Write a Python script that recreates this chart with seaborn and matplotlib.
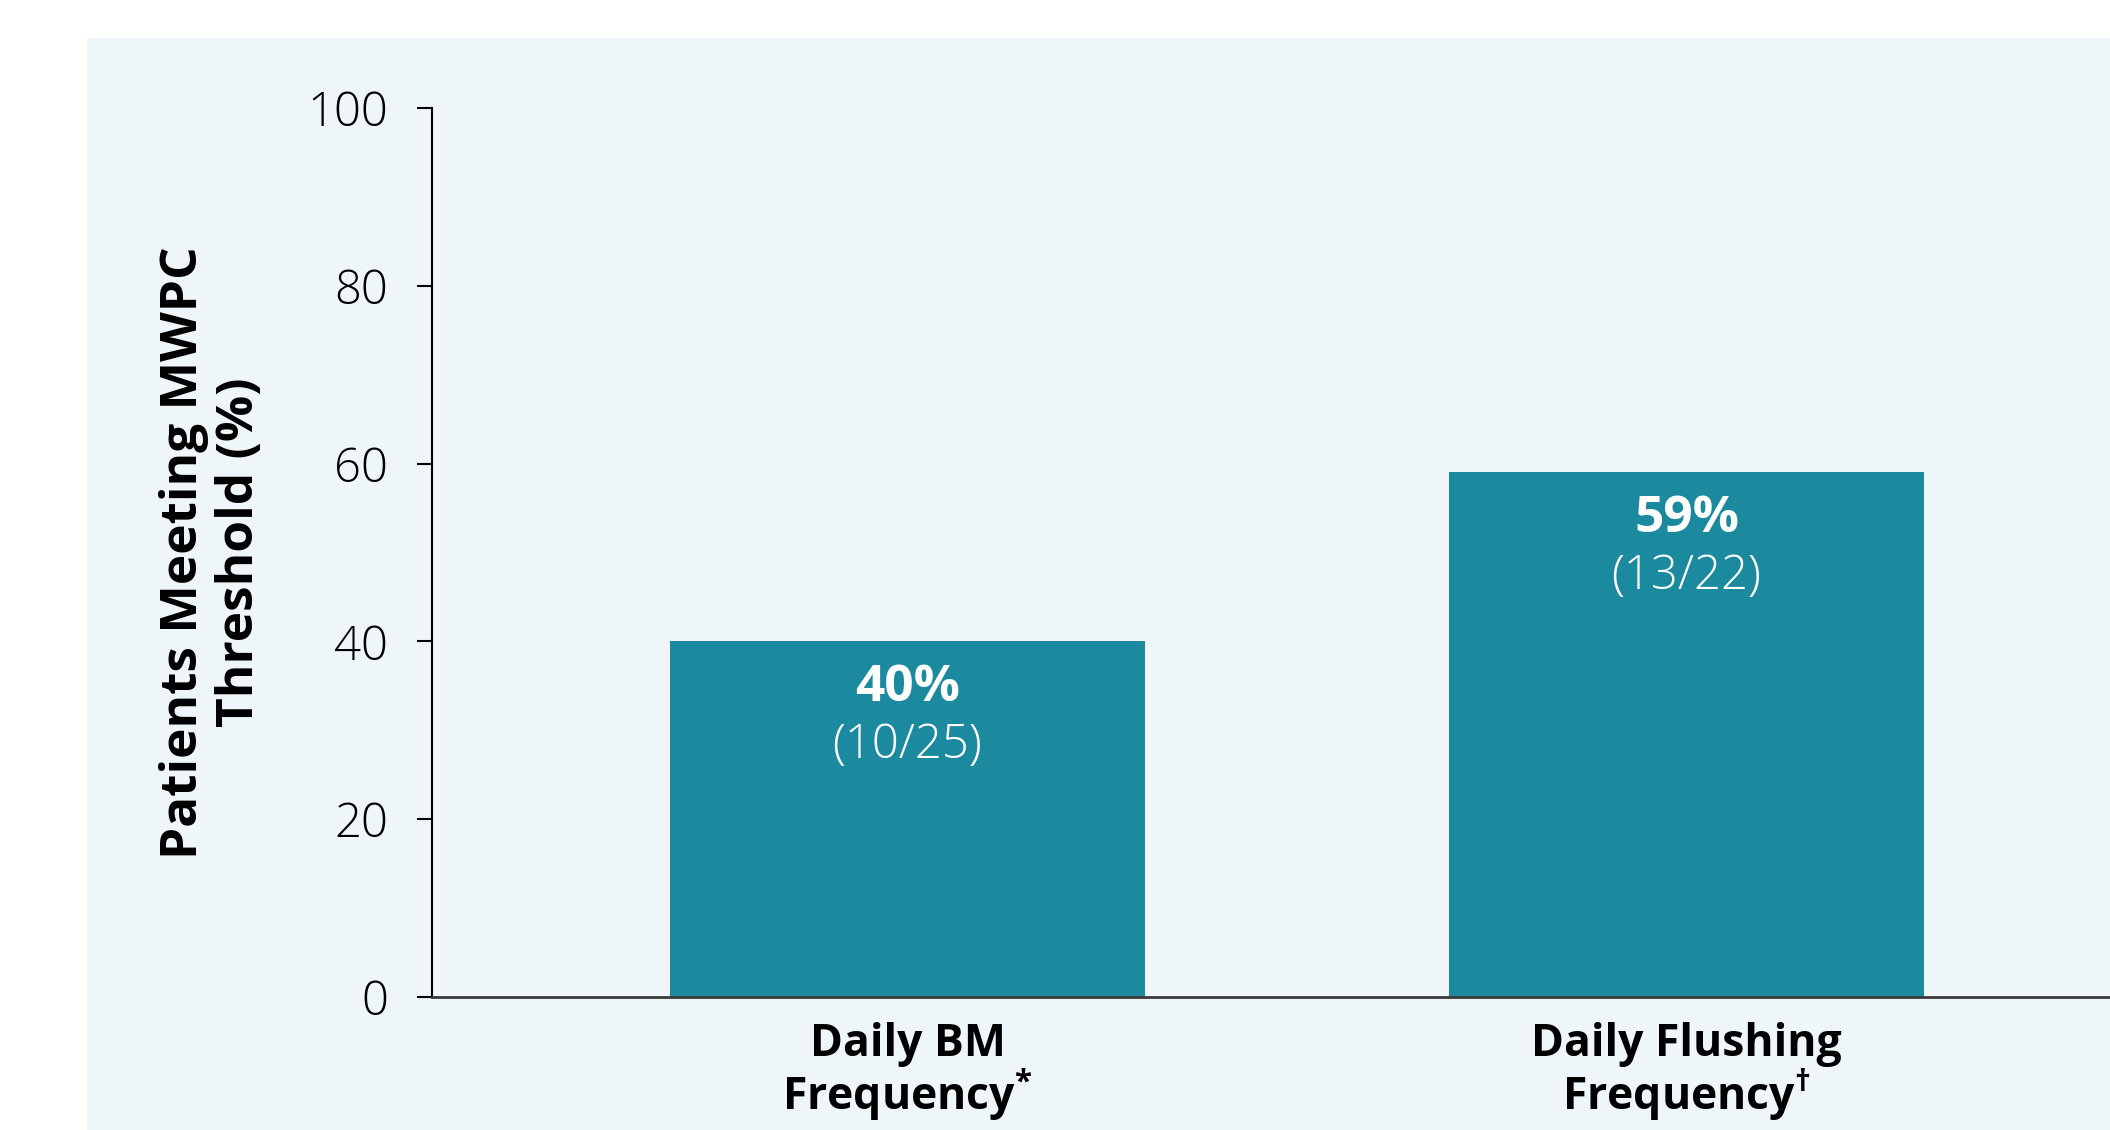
import matplotlib
matplotlib.use("Agg")
import matplotlib.pyplot as plt
import pandas as pd
import seaborn as sns
from matplotlib.patches import Rectangle

# Data
categories = ["Daily BM\nFrequency$^{*}$", "Daily Flushing\nFrequency$^{\\dagger}$"]
percent_meeting = [40, 59]
n_meeting = [10, 13]
n_total = [25, 22]
y_ticks = [0, 20, 40, 60, 80, 100]

BAR_COLOR = "#1C8A9E"
PANEL_COLOR = "#EEF6F9"
FONT = "Open Sans"

sns.set_theme(style="white")
plt.rcParams["font.family"] = [FONT, "DejaVu Sans"]
plt.rcParams["mathtext.fontset"] = "custom"
plt.rcParams["mathtext.rm"] = f"{FONT}:bold"
plt.rcParams["mathtext.bf"] = f"{FONT}:bold"
plt.rcParams["mathtext.it"] = f"{FONT}:bold"

W, H = 2110, 1130
fig = plt.figure(figsize=(W / 100, H / 100), dpi=100, facecolor="white")

# light background panel, drawn beneath the axes
fig.patches.append(Rectangle((87 / W, 0), 1 - 87 / W, 1 - 38 / H,
                             transform=fig.transFigure, facecolor=PANEL_COLOR,
                             edgecolor="none", zorder=-10))

ax = fig.add_axes([432 / W, 1 - 997 / H, 1 - 432 / W, (997 - 108) / H])
ax.set_facecolor("none")

df = pd.DataFrame({"measure": categories, "percent": percent_meeting})
sns.barplot(data=df, x="measure", y="percent", color=BAR_COLOR, saturation=1,
            width=0.61, edgecolor="none", linewidth=0, ax=ax)

# value labels inside the bars
for i, (pct, k, n) in enumerate(zip(percent_meeting, n_meeting, n_total)):
    ax.annotate(f"{pct}%", xy=(i, pct), xytext=(0, -47 * 0.72),
                textcoords="offset points", ha="center", va="center",
                color="white", fontsize=37, fontweight="bold")
    ax.annotate(f"({k}/{n})", xy=(i, pct), xytext=(0, -104 * 0.72),
                textcoords="offset points", ha="center", va="center",
                color="white", fontsize=34, fontweight="light")

ax.set_ylim(0, 100)
ax.set_xlim(-0.6104, 1.5437)
ax.set_yticks(y_ticks)
ax.set_yticklabels([str(t) for t in y_ticks])

ax.tick_params(axis="y", left=True, length=10.8, width=1.5, color="black",
               direction="out", pad=21, labelsize=34, labelcolor="black")
ax.tick_params(axis="x", bottom=False, length=0, pad=18, labelsize=32,
               labelcolor="black")
for lbl in ax.get_yticklabels():
    lbl.set_fontweight("light")
for lbl in ax.get_xticklabels():
    lbl.set_fontweight("bold")
    lbl.set_linespacing(1.0)

ax.set_xlabel("")
ax.set_ylabel("Patients Meeting MWPC\nThreshold (%)", fontsize=37,
              fontweight="bold", linespacing=1.15, color="black")
ax.yaxis.set_label_coords((212 - 432) / 1678, 0.5)
ax.yaxis.label.set_va("center")

sns.despine(ax=ax, top=True, right=True)
ax.spines["left"].set_color("black")
ax.spines["left"].set_linewidth(1.5)
ax.spines["bottom"].set_color("#3a3a3a")
ax.spines["bottom"].set_linewidth(2)
ax.grid(False)

fig.savefig("out.png", dpi=100, facecolor="white")
